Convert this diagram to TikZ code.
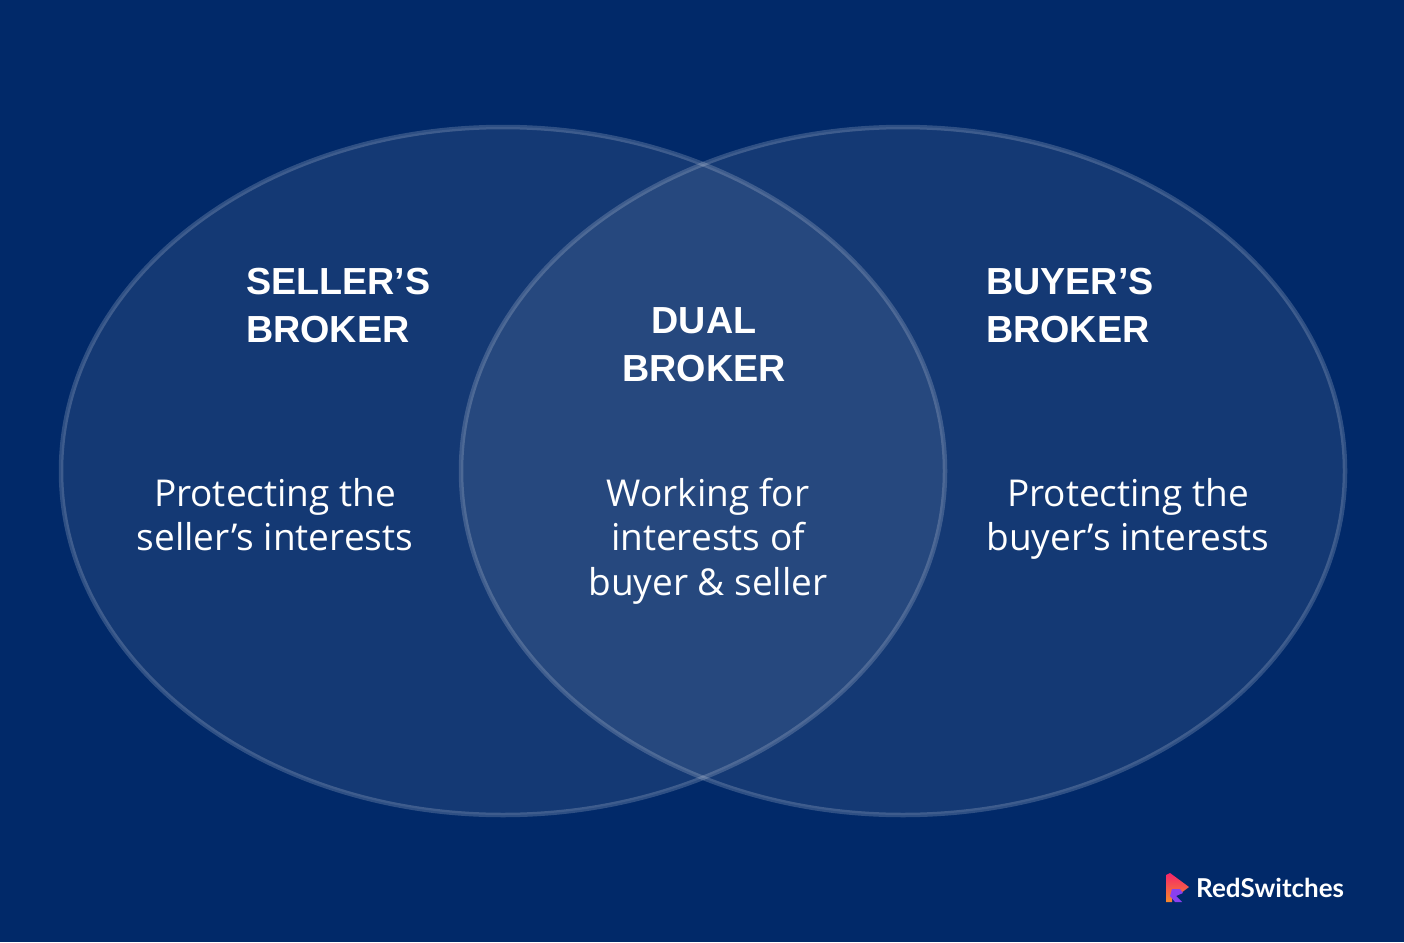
\documentclass[tikz,border=0pt]{standalone}
\usepackage{fontspec}
\setmainfont{Open Sans}
\newfontfamily\headfont{Liberation Sans}
\newfontfamily\logofont{Lato}
\definecolor{bgblue}{HTML}{012969}
\definecolor{logored}{HTML}{F5256B}
\definecolor{logoorange}{HTML}{F58A2A}
\definecolor{logopurple}{HTML}{8A3FF0}
\tikzset{
  x=1pt,y=-1pt,
  lobe/.style={fill=white,fill opacity=0.08,draw=white,draw opacity=0.18,line width=4.5pt},
  headtext/.style={text=white,anchor=north west,align=left,inner sep=0pt,font=\headfont\fontsize{37.7}{48}\selectfont\bfseries},
  bodytext/.style={text=white,anchor=center,align=center,inner sep=0pt,font=\fontsize{37}{44.4}\selectfont},
}
\begin{document}
\begin{tikzpicture}
\useasboundingbox (0,0) rectangle (1404,942);
\fill[bgblue] (0,0) rectangle (1404,942);
\path[lobe] (503,471) ellipse [x radius=442,y radius=344];
\path[lobe] (903,471) ellipse [x radius=442,y radius=344];
\node[headtext] (sellerhead) at (246,268) {SELLER’S\\BROKER};
\node[headtext,align=center,anchor=north] (dualhead) at (704,307) {DUAL\\BROKER};
\node[headtext] (buyerhead) at (986,268) {BUYER’S\\BROKER};
\node[bodytext] (sellerbody) at (275,514.6) {Protecting the\\seller’s interests};
\node[bodytext] (dualbody) at (708,541) {Working for\\interests of\\buyer \& seller};
\node[bodytext] (buyerbody) at (1128,519) {Protecting the\\buyer’s interests};
% logo
\shade[top color=logored,bottom color=logoorange] (1166,875) -- (1170,873) -- (1189,887) -- (1181,893) -- (1178,889) -- (1172,889) -- (1172,902) -- (1166,902) -- cycle;
\fill[logopurple] (1172,889) -- (1180,889) -- (1183,893) -- (1176,896) -- (1182,902) -- (1175,902) -- (1170,896) -- cycle;
\node[text=white,anchor=west,inner sep=0pt,font=\logofont\fontsize{26}{30}\selectfont\bfseries] (logotext) at (1196,888) {RedSwitches};
\end{tikzpicture}
\end{document}
